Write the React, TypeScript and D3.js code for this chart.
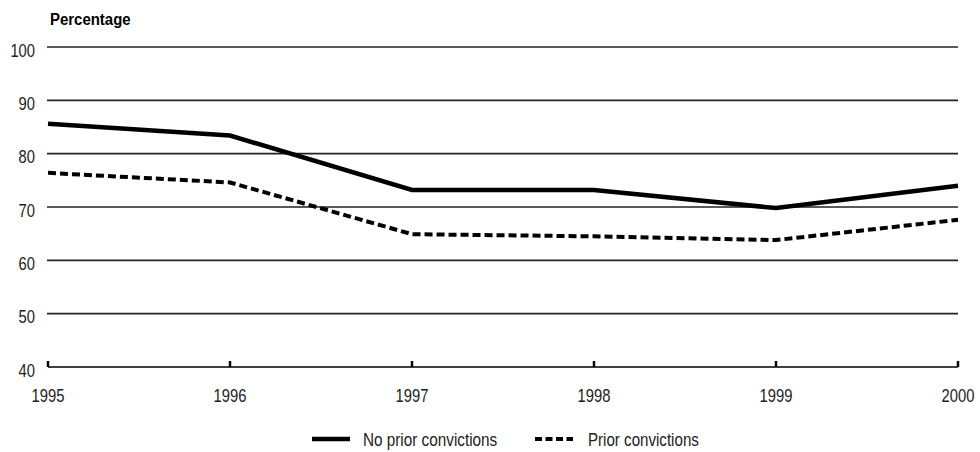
import { useEffect, useRef } from "react";
import * as d3 from "d3";

const years = [1995, 1996, 1997, 1998, 1999, 2000];
const noPrior = [85.6, 83.4, 73.2, 73.2, 69.8, 74.0];
const prior = [76.4, 74.6, 64.9, 64.5, 63.8, 67.6];
const yTicks = [40, 50, 60, 70, 80, 90, 100];

export default function App() {
  const ref = useRef<SVGSVGElement>(null);
  useEffect(() => {
    if (!ref.current) return;
    const svg = d3.select(ref.current);
    svg.selectAll("*").remove();
    const w = 980;
    const h = 452;
    const m = { l: 48, r: 22, t: 47, b: 85 };
    const font = "'Liberation Sans', Arial, sans-serif";
    // the source uses a condensed Arial; squeeze Liberation Sans horizontally
    const squeeze = (px: number, py: number, k: number) => `translate(${px},${py}) scale(${k},1)`;

    const x = d3.scaleLinear().domain([1995, 2000]).range([m.l, w - m.r]);
    const y = d3.scaleLinear().domain([40, 100]).range([h - m.b, m.t]);

    // gridlines
    svg.append("g")
      .selectAll("line")
      .data(yTicks.filter((d) => d > 40))
      .join("line")
      .attr("x1", x(1995) - 1).attr("x2", x(2000))
      .attr("y1", (d) => y(d)).attr("y2", (d) => y(d))
      .attr("stroke", "#222").attr("stroke-width", 1.6);

    // baseline
    svg.append("line")
      .attr("x1", x(1995)).attr("x2", x(2000))
      .attr("y1", y(40)).attr("y2", y(40))
      .attr("stroke", "#000").attr("stroke-width", 1.6);

    // x ticks (upward)
    svg.append("g")
      .selectAll("line")
      .data(years)
      .join("line")
      .attr("x1", (d) => x(d)).attr("x2", (d) => x(d))
      .attr("y1", y(40)).attr("y2", y(40) - 6)
      .attr("stroke", "#000").attr("stroke-width", 2.5);

    // y labels
    svg.append("g")
      .selectAll("text")
      .data(yTicks)
      .join("text")
      .attr("transform", (d) => squeeze(35, y(d) + 9.5, 0.82))
      .attr("text-anchor", "end")
      .attr("font-family", font).attr("font-size", 18)
      .attr("fill", "#222")
      .text((d) => d);

    // x labels
    svg.append("g")
      .selectAll("text")
      .data(years)
      .join("text")
      .attr("transform", (d) => squeeze(x(d), y(40) + 35, 0.82))
      .attr("text-anchor", "middle")
      .attr("font-family", font).attr("font-size", 18)
      .attr("fill", "#222")
      .text((d) => d);

    svg.append("text")
      .attr("transform", squeeze(50, 25, 0.88))
      .attr("font-family", font).attr("font-size", 17).attr("font-weight", "bold")
      .text("Percentage");

    const line = d3.line<number>().x((_, i) => x(years[i])).y((d) => y(d));

    svg.append("path")
      .attr("d", line(prior)!)
      .attr("fill", "none").attr("stroke", "#000").attr("stroke-width", 4)
      .attr("stroke-dasharray", "8 4");

    svg.append("path")
      .attr("d", line(noPrior)!)
      .attr("fill", "none").attr("stroke", "#000").attr("stroke-width", 4.5);

    // legend
    const ly = 439;
    svg.append("line")
      .attr("x1", 312).attr("x2", 350).attr("y1", ly).attr("y2", ly)
      .attr("stroke", "#000").attr("stroke-width", 4.5);
    svg.append("text")
      .attr("transform", squeeze(363, ly + 7, 0.85))
      .attr("font-family", font).attr("font-size", 18)
      .attr("fill", "#222")
      .text("No prior convictions");
    svg.append("line")
      .attr("x1", 535).attr("x2", 573).attr("y1", ly).attr("y2", ly)
      .attr("stroke", "#000").attr("stroke-width", 4)
      .attr("stroke-dasharray", "7 3.5");
    svg.append("text")
      .attr("transform", squeeze(588, ly + 7, 0.84))
      .attr("font-family", font).attr("font-size", 18)
      .attr("fill", "#222")
      .text("Prior convictions");
  }, []);
  return (
    <div style={{ position: "fixed", left: 0, top: 0, background: "#fff" }}>
      <svg ref={ref} width={980} height={452} style={{ display: "block" }} />
    </div>
  );
}
